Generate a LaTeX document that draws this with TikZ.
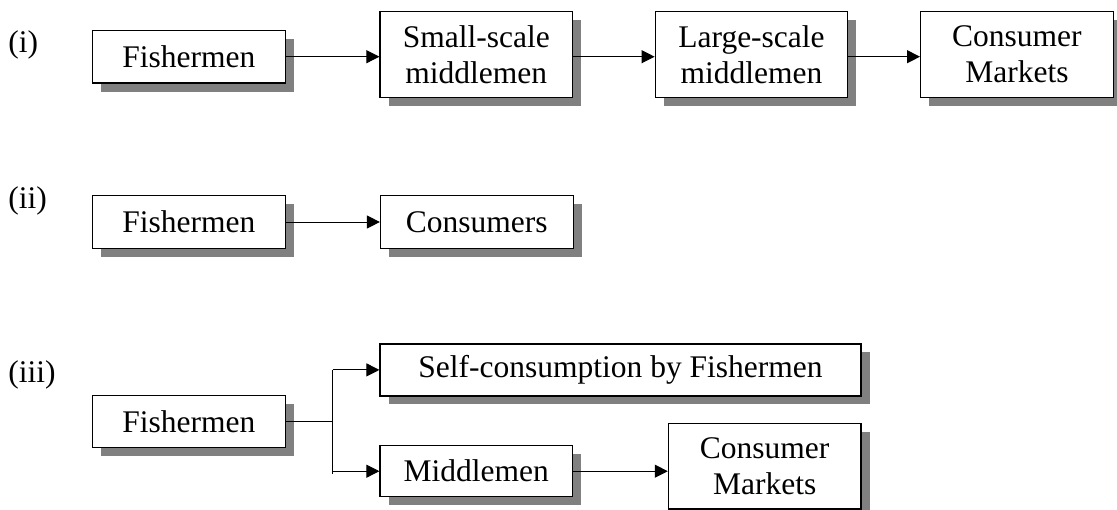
\documentclass[tikz,border=0pt]{standalone}
\usepackage{fontspec}
\setmainfont{Liberation Serif}
\usetikzlibrary{shadows,arrows.meta}
\begin{document}
\begin{tikzpicture}[x=0.5pt,y=-0.5pt,
  box/.style={draw=black, line width=0.6pt, fill=white, inner sep=0pt, align=center,
    font=\fontsize{15.75}{17.8}\selectfont,
    drop shadow={shadow xshift=4.25pt, shadow yshift=-4.25pt, fill=black!50, opacity=1}},
  onebox/.style={box, minimum width=96.3pt, minimum height=26.3pt},
  twobox/.style={box, minimum width=96.3pt, minimum height=42.8pt},
  widebox/.style={box, minimum width=240.5pt, minimum height=26pt},
  lbl/.style={anchor=west, inner sep=0pt, font=\fontsize{15.75}{17.8}\selectfont},
  arr/.style={line width=0.5pt, -{Triangle[length=6.5pt,width=6.5pt]}},
  con/.style={line width=0.5pt}]
\useasboundingbox (0,0) rectangle (1117,509);

% row (i)
\node[lbl] (li) at (8,45) {(i)};
\node[onebox] (f1) at (188.9,56.7) {Fishermen};
\node[twobox] (s1) at (476.3,54.5) {Small-scale\\middlemen};
\node[twobox] (l1) at (751.5,54.5) {Large-scale\\middlemen};
\node[twobox] (c1) at (1016.9,54.5) {Consumer\\Markets};
\draw[arr] (f1.east) -- (f1.east -| s1.west);
\draw[arr] (s1.east |- f1.east) -- (l1.west |- f1.east);
\draw[arr] (l1.east |- f1.east) -- (c1.west |- f1.east);

% row (ii)
\node[lbl] (lii) at (8,201) {(ii)};
\node[onebox] (f2) at (188.9,222) {Fishermen};
\node[onebox] (k2) at (476.8,222) {Consumers};
\draw[arr] (f2.east) -- (k2.west);

% row (iii)
\node[lbl] (liii) at (8,375) {(iii)};
\node[onebox] (f3) at (188.9,421.5) {Fishermen};
\node[widebox] (sc) at (620.5,369.9) {Self-consumption by Fishermen};
\node[onebox, minimum height=25.5pt] (m3) at (476.3,471.2) {Middlemen};
\node[twobox] (c3) at (764.7,466.1) {Consumer\\Markets};
\coordinate (j) at (332.7,421.5);
\coordinate (jb) at (332.7,474);
\draw[con] (f3.east) -- (j);
\draw[con] (j |- sc.west) -- (jb);
\draw[arr] (j |- sc.west) -- (sc.west);
\draw[arr] (j |- m3.west) -- (m3.west);
\draw[arr] (m3.east) -- (m3.east -| c3.west);
\end{tikzpicture}
\end{document}
